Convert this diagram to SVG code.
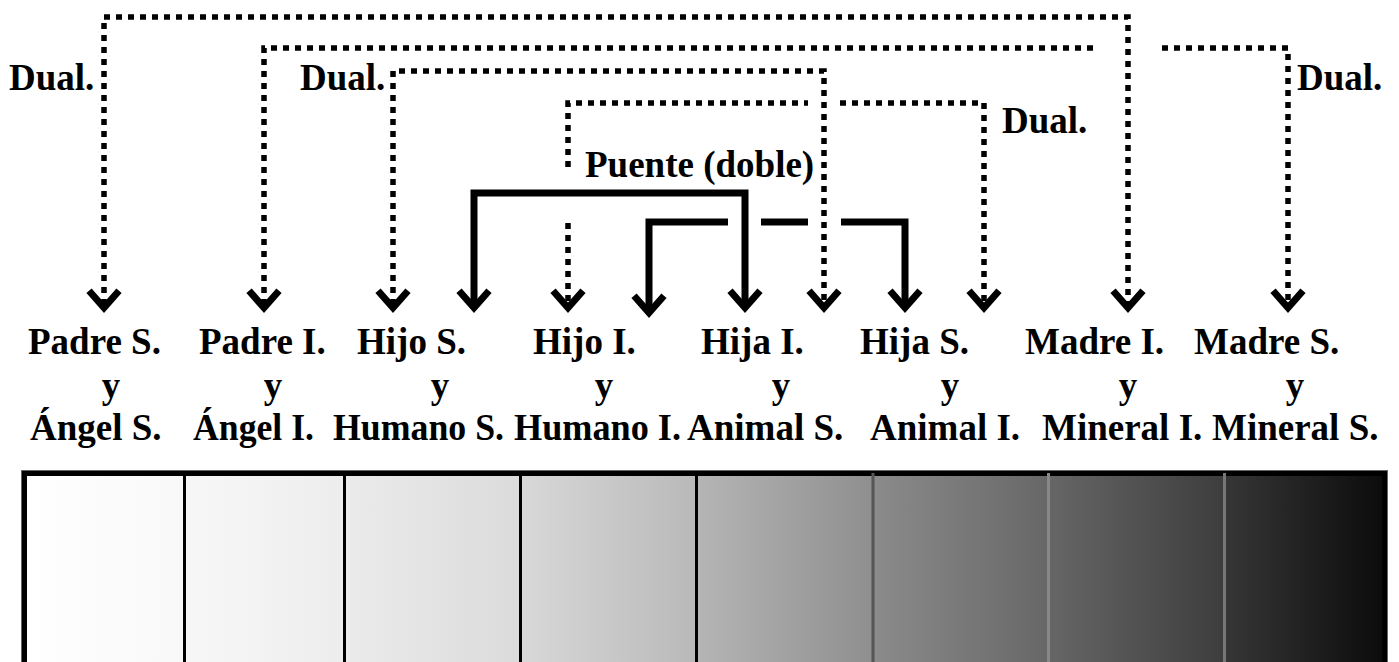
<svg xmlns="http://www.w3.org/2000/svg" xmlns:xlink="http://www.w3.org/1999/xlink" width="1399" height="662" viewBox="0 0 1399 662">
<style>
.t{font-family:"Liberation Serif","Times New Roman",serif;font-weight:bold;font-size:37px;fill:#000}
.m{text-anchor:middle}
.dot{fill:none;stroke:#000;stroke-width:5.5;stroke-dasharray:6 6}
.sol{fill:none;stroke:#000;stroke-width:7;stroke-linejoin:miter}
.ah{fill:none;stroke:#000;stroke-width:7;stroke-linejoin:miter}
</style>
<defs>
<path id="ah" class="ah" d="M-15,-17 L0,0 L15,-17"/>
<linearGradient id="g1" x1="0" y1="0" x2="1" y2="0"><stop offset="0" stop-color="#ffffff"/><stop offset="1" stop-color="#f8f8f8"/></linearGradient>
<linearGradient id="g2" x1="0" y1="0" x2="1" y2="0"><stop offset="0" stop-color="#f7f7f7"/><stop offset="1" stop-color="#ededed"/></linearGradient>
<linearGradient id="g3" x1="0" y1="0" x2="1" y2="0"><stop offset="0" stop-color="#ebebeb"/><stop offset="1" stop-color="#dbdbdb"/></linearGradient>
<linearGradient id="g4" x1="0" y1="0" x2="1" y2="0"><stop offset="0" stop-color="#d8d8d8"/><stop offset="1" stop-color="#b9b9b9"/></linearGradient>
<linearGradient id="g5" x1="0" y1="0" x2="1" y2="0"><stop offset="0" stop-color="#b5b5b5"/><stop offset="1" stop-color="#8f8f8f"/></linearGradient>
<linearGradient id="g6" x1="0" y1="0" x2="1" y2="0"><stop offset="0" stop-color="#8b8b8b"/><stop offset="1" stop-color="#676767"/></linearGradient>
<linearGradient id="g7" x1="0" y1="0" x2="1" y2="0"><stop offset="0" stop-color="#666666"/><stop offset="1" stop-color="#3d3d3d"/></linearGradient>
<linearGradient id="g8" x1="0" y1="0" x2="1" y2="0"><stop offset="0" stop-color="#363636"/><stop offset="1" stop-color="#0c0c0c"/></linearGradient>
</defs>
<rect width="1399" height="662" fill="#fff"/>

<g id="scale-bar">
<rect x="21.5" y="470.5" width="1366" height="220" fill="#000" stroke="#666" stroke-width="1"/>
<rect x="27" y="476" width="156" height="200" fill="url(#g1)"/>
<rect x="186" y="476" width="157" height="200" fill="url(#g2)"/>
<rect x="346" y="476" width="173" height="200" fill="url(#g3)"/>
<rect x="522" y="476" width="173" height="200" fill="url(#g4)"/>
<rect x="698" y="476" width="174" height="200" fill="url(#g5)"/>
<rect x="874" y="476" width="174" height="200" fill="url(#g6)"/>
<rect x="1050" y="476" width="174" height="200" fill="url(#g7)"/>
<rect x="1226" y="476" width="156" height="200" fill="url(#g8)"/>
<rect x="871.5" y="473" width="3" height="200" fill="#555"/>
<rect x="1047" y="473" width="3" height="200" fill="#888"/>
<rect x="1223" y="473" width="3" height="200" fill="#777"/>
</g>

<g id="connectors">
<path class="dot" d="M104,305 V17 H1128 V305"/>
<path class="dot" d="M264,305 V48 H1097 M1162,48 H1288 V305"/>
<path class="dot" d="M393,305 V71 H824 V305"/>
<path class="dot" d="M568,167 V103 H808 M840,103 H984 V305"/>
<path class="dot" d="M568,223 V305"/>
<path class="sol" d="M474,308 V193 H745 V308"/>
<path class="sol" d="M649,313 V222 H728 M761,222 H808 M841,222 H905 V308"/>
<use xlink:href="#ah" transform="translate(104,307.7)"/>
<use xlink:href="#ah" transform="translate(264,307.7)"/>
<use xlink:href="#ah" transform="translate(393,307.7)"/>
<use xlink:href="#ah" transform="translate(474,307.7)"/>
<use xlink:href="#ah" transform="translate(568,307.7)"/>
<use xlink:href="#ah" transform="translate(649,312.7)"/>
<use xlink:href="#ah" transform="translate(745,307.7)"/>
<use xlink:href="#ah" transform="translate(824,307.7)"/>
<use xlink:href="#ah" transform="translate(905,307.7)"/>
<use xlink:href="#ah" transform="translate(984,307.7)"/>
<use xlink:href="#ah" transform="translate(1128,307.7)"/>
<use xlink:href="#ah" transform="translate(1288,307.7)"/>
<text class="t" x="9" y="90">Dual.</text>
<text class="t" x="300" y="90">Dual.</text>
<text class="t" x="1002" y="133">Dual.</text>
<text class="t" x="1297" y="90">Dual.</text>
<text class="t" x="585" y="177">Puente (doble)</text>
</g>

<g id="n-padre-s"><text class="t" x="28" y="354">Padre S.</text><text class="t m" x="111" y="398">y</text><text class="t" x="30" y="440">Ángel S.</text></g>
<g id="n-padre-i"><text class="t" x="199" y="354">Padre I.</text><text class="t m" x="273" y="398">y</text><text class="t" x="193" y="440" textLength="121" lengthAdjust="spacingAndGlyphs">Ángel I.</text></g>
<g id="n-hijo-s"><text class="t" x="357" y="354">Hijo S.</text><text class="t m" x="440" y="398">y</text><text class="t" x="333" y="440" textLength="171" lengthAdjust="spacingAndGlyphs">Humano S.</text></g>
<g id="n-hijo-i"><text class="t" x="514" y="354" dx="19">Hijo I.</text><text class="t m" x="604" y="398">y</text><text class="t" x="514" y="440" textLength="167" lengthAdjust="spacingAndGlyphs">Humano I.</text></g>
<g id="n-hija-i"><text class="t" x="701" y="354">Hija I.</text><text class="t m" x="781" y="398">y</text><text class="t" x="687" y="440">Animal S.</text></g>
<g id="n-hija-s"><text class="t" x="860" y="354">Hija S.</text><text class="t m" x="950" y="398">y</text><text class="t" x="870" y="440">Animal I.</text></g>
<g id="n-madre-i"><text class="t" x="1025" y="354">Madre I.</text><text class="t m" x="1128" y="398">y</text><text class="t" x="1042" y="440">Mineral I.</text></g>
<g id="n-madre-s"><text class="t" x="1194" y="354">Madre S.</text><text class="t m" x="1295" y="398">y</text><text class="t" x="1212" y="440">Mineral S.</text></g>
</svg>
